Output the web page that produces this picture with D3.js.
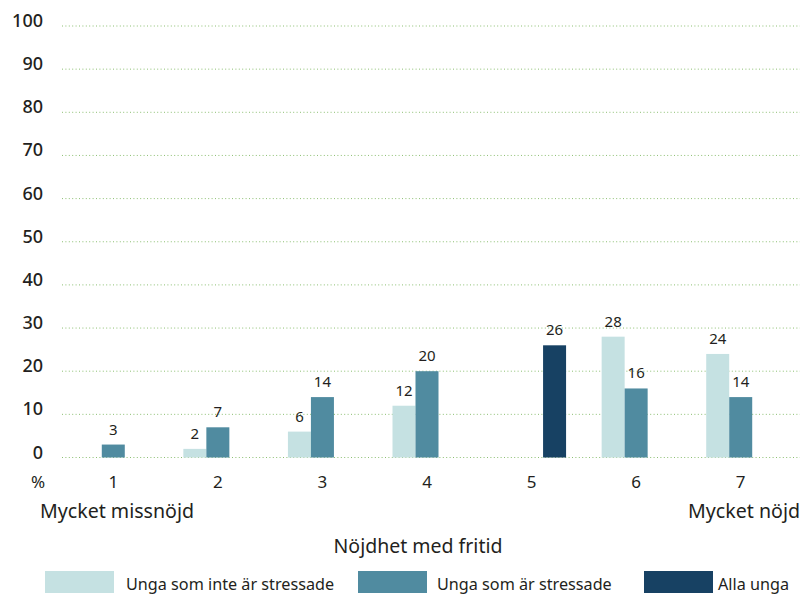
<!DOCTYPE html>
<html>
<head>
<meta charset="utf-8">
<script src="https://cdn.jsdelivr.net/npm/d3@7"></script>
<style>
  html, body { margin: 0; padding: 0; background: #fff; }
  svg { display: block; font-family: "Noto Sans", sans-serif; }
</style>
</head>
<body>
<svg id="chart" width="804" height="598"></svg>
<script>
// Nöjdhet med fritid, per grupp (procent)
const categories = ["1", "2", "3", "4", "5", "6", "7"];
const seriesNames = ["Unga som inte är stressade", "Unga som är stressade", "Alla unga"];
const notStressed = [null, 2, 6, 12, null, 28, 24];
const stressed = [3, 7, 14, 20, null, 16, 14];
const allYouth = [null, null, null, null, 26, null, null];
const yTicks = [0, 10, 20, 30, 40, 50, 60, 70, 80, 90, 100];
const colors = ["#c5e1e2", "#508ba0", "#174163"];

const svg = d3.select("#chart");
const textColor = "#231f20";

const x = d3.scaleBand().domain(categories).range([61, 793]);
const y = d3.scaleLinear().domain([0, 100]).range([457.5, 26]);
const barW = 23;
const sub = d3.scaleBand().domain(d3.range(3)).range([-1.5 * barW, 1.5 * barW]);

// Dotted gridlines
svg.append("g")
  .selectAll("line")
  .data(yTicks)
  .join("line")
  .attr("x1", 62).attr("x2", 800)
  .attr("y1", d => y(d)).attr("y2", d => y(d))
  .attr("stroke", "#8cbf72")
  .attr("stroke-width", 1)
  .attr("stroke-dasharray", "1 2.4");

// Y axis labels
svg.append("g")
  .selectAll("text")
  .data(yTicks)
  .join("text")
  .attr("x", 43)
  .attr("y", d => y(d) + 1)
  .attr("text-anchor", "end")
  .attr("font-size", 18)
  .attr("font-weight", 500)
  .attr("fill", textColor)
  .text(d => d);

// Bars
const series = [notStressed, stressed, allYouth];
series.forEach((vals, si) => {
  const pts = categories.map((c, i) => ({ c, v: vals[i] })).filter(d => d.v != null);
  const g = svg.append("g");
  g.selectAll("rect")
    .data(pts)
    .join("rect")
    .attr("x", d => x(d.c) + x.bandwidth() / 2 + sub(si))
    .attr("width", sub.bandwidth())
    .attr("y", d => y(d.v))
    .attr("height", d => y(0) - y(d.v))
    .attr("fill", colors[si]);
  g.selectAll("text")
    .data(pts)
    .join("text")
    .attr("x", d => x(d.c) + x.bandwidth() / 2 + sub(si) + sub.bandwidth() / 2)
    .attr("y", d => y(d.v) - 10)
    .attr("text-anchor", "middle")
    .attr("font-size", 15)
    .attr("fill", textColor)
    .text(d => d.v);
});

// X axis labels
svg.append("g")
  .selectAll("text")
  .data(categories)
  .join("text")
  .attr("x", d => x(d) + x.bandwidth() / 2)
  .attr("y", 488)
  .attr("text-anchor", "middle")
  .attr("font-size", 17)
  .attr("fill", textColor)
  .text(d => d);

svg.append("text")
  .attr("x", 38).attr("y", 488)
  .attr("text-anchor", "middle")
  .attr("font-size", 17)
  .attr("fill", textColor)
  .text("%");

svg.append("text")
  .attr("x", 40).attr("y", 518)
  .attr("font-size", 19.6)
  .attr("fill", textColor)
  .text("Mycket missnöjd");

svg.append("text")
  .attr("x", 800).attr("y", 518)
  .attr("text-anchor", "end")
  .attr("font-size", 19.6)
  .attr("fill", textColor)
  .text("Mycket nöjd");

svg.append("text")
  .attr("x", 418).attr("y", 553)
  .attr("text-anchor", "middle")
  .attr("font-size", 19.5)
  .attr("fill", textColor)
  .text("Nöjdhet med fritid");

// Legend
const legendX = [45, 358, 644];
const legendTextX = [126, 437, 718];
const legend = svg.append("g");
seriesNames.forEach((name, i) => {
  legend.append("rect")
    .attr("x", legendX[i]).attr("y", 571)
    .attr("width", 69).attr("height", 22)
    .attr("fill", colors[i]);
  legend.append("text")
    .attr("x", legendTextX[i]).attr("y", 590)
    .attr("font-size", 16.2)
    .attr("fill", textColor)
    .text(name);
});
</script>
</body>
</html>
